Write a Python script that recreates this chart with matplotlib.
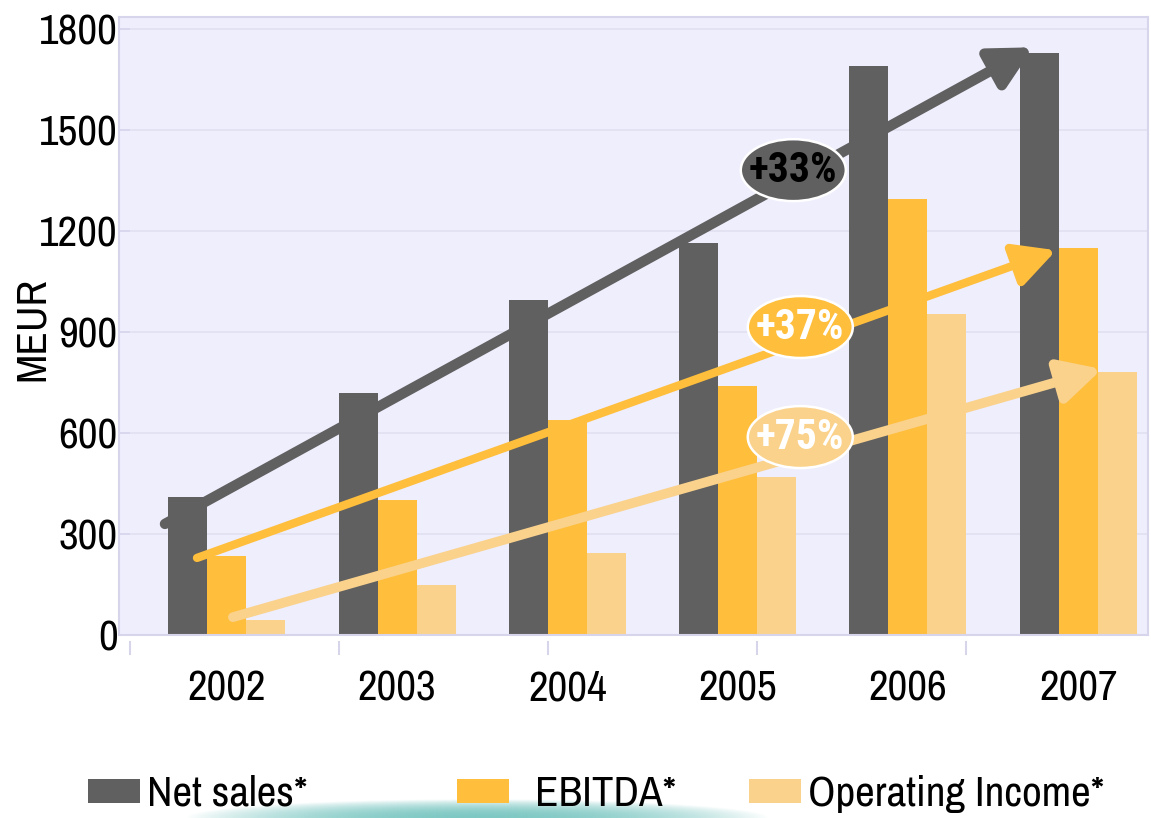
import matplotlib
matplotlib.use("Agg")
import matplotlib.pyplot as plt
import matplotlib.transforms as mtransforms
from matplotlib.patches import Ellipse, Patch
import numpy as np

# dane (MEUR)
lata = ["2002", "2003", "2004", "2005", "2006", "2007"]
net_sales = [410, 720, 995, 1165, 1690, 1730]
ebitda = [235, 400, 640, 740, 1295, 1150]
operating_income = [45, 150, 245, 470, 955, 780]

# etykiety wzrostu i legendy
wzrost_etykiety = ["+33%", "+37%", "+75%"]
serie = ["Net sales*", "EBITDA*", "Operating Income*"]

KOLOR_NS = "#606060"
KOLOR_EB = "#ffbe3c"
KOLOR_OI = "#fad28c"
TLO = "#efeefd"
LAWENDA = "#d6d5ec"

plt.rcParams["font.family"] = ["Liberation Sans Narrow", "Archivo Narrow",
                               "Roboto Condensed", "Liberation Sans", "DejaVu Sans"]
POGRUBIONA = ["Roboto Condensed", "Barlow Semi Condensed", "Archivo Narrow", "DejaVu Sans"]

fig = plt.figure(figsize=(11.51, 8.18), dpi=100)
ax = fig.add_axes([119 / 1151, 1 - 635 / 818, (1148 - 119) / 1151, (635 - 17) / 818])
ax.set_facecolor(TLO)

x = np.arange(len(lata))
w = 0.229

b1 = ax.bar(x - w, net_sales, w, color=KOLOR_NS, zorder=2)
b2 = ax.bar(x, ebitda, w, color=KOLOR_EB, zorder=2)
b3 = ax.bar(x + w, operating_income, w, color=KOLOR_OI, zorder=2)

ax.set_xlim(-0.633, 5.41)
ax.set_ylim(0, 1836)
ax.set_yticks(np.arange(0, 1801, 300))
ax.yaxis.grid(True, color="#e1e0f2", lw=1.2, zorder=0)
ax.set_axisbelow(True)

for s in ax.spines.values():
    s.set_color(LAWENDA)
    s.set_linewidth(1.5)

ax.tick_params(axis="y", direction="in", length=8, color=LAWENDA, width=1.2,
               labelsize=31, pad=1)
ax.set_xticks(x)
ax.set_xticklabels(lata)
ax.tick_params(axis="x", length=0, labelsize=31, pad=25)

# kreski pod osią X
trans = mtransforms.blended_transform_factory(ax.transData, ax.transAxes)
for xx in np.arange(5) * 1.228 - 0.569:
    ax.plot([xx, xx], [-0.012, -0.03], color=LAWENDA, lw=1.5, transform=trans,
            clip_on=False)

ax.set_ylabel("MEUR", fontsize=31, va="center")
ax.yaxis.set_label_coords(-0.0845, 0.495)

# strzałki trendu
strzalki = [
    ((-0.363, 330), (4.737, 1746), KOLOR_NS, 7.5),
    ((-0.175, 229), (4.871, 1143), KOLOR_EB, 6),
    ((0.036, 53), (5.14, 790), KOLOR_OI, 7),
]
for start, koniec, kolor, lw in strzalki:
    ax.annotate("", xy=koniec, xytext=start, zorder=3,
                arrowprops=dict(arrowstyle="-|>,head_length=1.0,head_width=0.52",
                                mutation_scale=25, lw=lw, color=kolor,
                                shrinkA=0, shrinkB=0))

# elipsy z opisami
elipsy = [
    ((3.327, 1381), KOLOR_NS, "black"),
    ((3.368, 915), KOLOR_EB, "white"),
    ((3.368, 588), KOLOR_OI, "white"),
]
for (srodek, kolor, kolor_txt), tekst in zip(elipsy, wzrost_etykiety):
    ax.add_patch(Ellipse(srodek, 0.617, 184, facecolor=kolor, edgecolor="white",
                         lw=1.8, zorder=4))
    ax.text(srodek[0], srodek[1], tekst, ha="center", va="center", fontsize=30,
            fontweight="bold", family=POGRUBIONA, color=kolor_txt, zorder=5)

# poświata u dołu slajdu
gax = fig.add_axes([185 / 1151, 0, 585 / 1151, 20 / 818], zorder=-1)
gx = np.linspace(-1, 1, 300)
gy = np.linspace(0, 1, 40)
GX, GY = np.meshgrid(gx, gy)
alfa = np.clip(1 - GX ** 2 - (GY * 1.05) ** 2, 0, 1) ** 0.9
obraz = np.zeros((40, 300, 4))
obraz[..., 0] = 125 / 255
obraz[..., 1] = 200 / 255
obraz[..., 2] = 195 / 255
obraz[..., 3] = alfa
gax.imshow(obraz, aspect="auto", origin="lower", extent=[0, 1, 0, 1])
gax.axis("off")

# legenda - trzy osobne wpisy
uchwyty = [b1, b2, b3]
pozycje = [88, 457, 749]
odstepy = [0.16, 0.6, 0.18]
for uchwyt, nazwa, px, pad in zip(uchwyty, serie, pozycje, odstepy):
    fig.legend([uchwyt], [nazwa], loc="center left",
               bbox_to_anchor=(px / 1151, 1 - 794 / 818), frameon=False,
               fontsize=31, handlelength=1.2, handleheight=0.49,
               handletextpad=pad, borderaxespad=0, borderpad=0)

fig.savefig("out.png", dpi=100)
